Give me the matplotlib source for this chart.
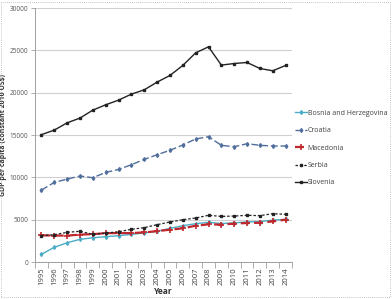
import matplotlib
matplotlib.use("Agg")
import matplotlib.pyplot as plt
from matplotlib.patches import Rectangle
import numpy as np

plt.rcParams['font.family'] = ['Open Sans', 'DejaVu Sans']

years = [str(y) for y in range(1995, 2015)]
bosnia = [910, 1740, 2280, 2680, 2870, 2990, 3110, 3270, 3430, 3630,
          3980, 4290, 4530, 4690, 4550, 4620, 4740, 4780, 4940, 5050]
croatia = [8500, 9410, 9800, 10160, 9960, 10590, 10940, 11500, 12130, 12680,
           13200, 13830, 14540, 14810, 13790, 13620, 13980, 13790, 13710, 13710]
macedonia = [3150, 3130, 3120, 3240, 3290, 3410, 3420, 3420, 3500, 3650,
             3820, 3980, 4290, 4450, 4420, 4540, 4610, 4640, 4800, 5000]
serbia = [3120, 3230, 3510, 3630, 3270, 3420, 3580, 3860, 4060, 4410,
          4730, 5000, 5200, 5520, 5390, 5430, 5520, 5480, 5710, 5640]
slovenia = [15050, 15590, 16450, 17010, 17950, 18580, 19130, 19840, 20350, 21260,
            22050, 23230, 24720, 25430, 23270, 23460, 23580, 22870, 22600, 23230]
yticks = [0, 5000, 10000, 15000, 20000, 25000, 30000]

fig = plt.figure(figsize=(3.92, 2.99), dpi=100)
ax = fig.add_axes([0.0893, 0.1237, 0.6557, 0.849])
x = np.arange(len(years))

ax.plot(x, bosnia, color='#4BACC6', lw=1.0, ls='-', marker='d', ms=2, label='Bosnia and Herzegovina')
ax.plot(x, croatia, color='#4F6E9C', lw=1.0, ls=(0, (5, 2)), marker='d', ms=2, label='Croatia')
ax.plot(x, macedonia, color='#C0272D', lw=1.6, ls=(0, (4, 2)), marker='+', ms=4, mew=1.2, label='Macedonia')
ax.plot(x, serbia, color='#222222', lw=0.9, ls=(0, (2, 1.5)), marker='s', ms=1.8, label='Serbia')
ax.plot(x, slovenia, color='#222222', lw=1.0, ls='-', marker='s', ms=1.8, label='Slovenia')

ax.set_xlim(-0.5, len(years) - 0.5)
ax.set_ylim(0, 30000)
ax.set_yticks(yticks)
ax.set_yticklabels([str(v) for v in yticks], fontsize=4.7, color='#595959')
ax.set_xticks(x)
ax.set_xticklabels(years, rotation=90, fontsize=5.5, color='#404040')
ax.set_xticks(np.arange(-0.5, len(years)), minor=True)
ax.tick_params(axis='x', which='major', length=0, pad=4)
ax.tick_params(axis='x', which='minor', length=4, width=0.6, color='#A0A0A0')
ax.tick_params(axis='y', length=3, width=0.6, color='#A0A0A0', pad=2)
ax.grid(axis='y', color='#D0D0D0', lw=0.8)
ax.set_axisbelow(True)
for s in ['top', 'right']:
    ax.spines[s].set_visible(False)
for s in ['left', 'bottom']:
    ax.spines[s].set_color('#A0A0A0')
    ax.spines[s].set_linewidth(0.7)

ax.set_xlabel('Year', fontsize=6, fontweight='bold', color='#333333', labelpad=1)
ax.set_ylabel('GDP per capita (constant 2010 US$)', fontsize=5, fontweight='bold', color='#333333')
ax.yaxis.set_label_coords(-0.11, 0.5)

leg = ax.legend(loc='center left', bbox_to_anchor=(0.995, 0.449), frameon=False, fontsize=5.0,
                handlelength=1.7, handletextpad=0.15, labelspacing=1.5, borderaxespad=0.2,
                labelcolor='#404040')

fig.patches.append(Rectangle((0.003, 0.008), 0.992, 0.985, transform=fig.transFigure,
                             fill=False, ls=(0, (1, 1.5)), lw=0.6, ec='#B0B0B0'))

fig.savefig('out.png', dpi=100)
